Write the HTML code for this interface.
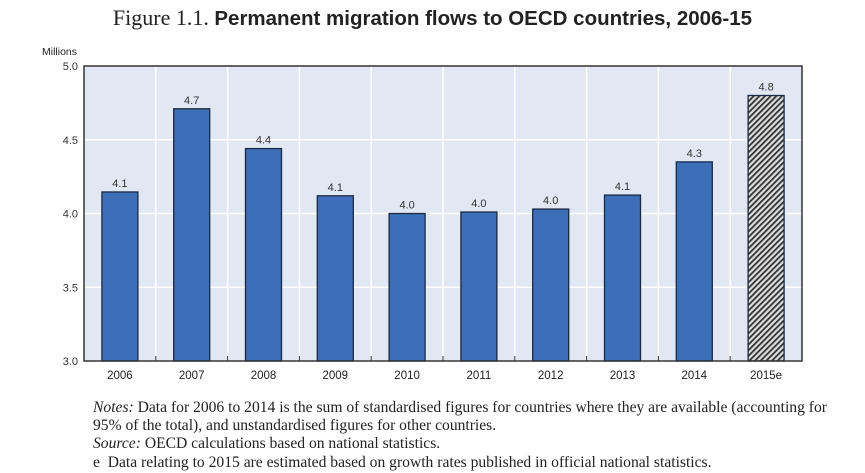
<!DOCTYPE html>
<html><head><meta charset="utf-8"><style>
body{margin:0;background:#fff;width:865px;height:473px;overflow:hidden;position:relative;font-family:"Liberation Sans",sans-serif}
.t{position:absolute;left:0;width:865px;top:5px;text-align:center;font-family:"Liberation Serif",serif;font-size:22px;color:#222;white-space:nowrap}
.n{position:absolute;left:93px;font-family:"Liberation Serif",serif;font-size:15.6px;color:#222;line-height:17.5px;white-space:nowrap}
</style></head><body>
<div class="t">Figure 1.1. <b style="font-family:'Liberation Sans',sans-serif;font-size:20.5px">Permanent migration flows to OECD countries, 2006-15</b></div>
<svg id="c" width="865" height="400" style="position:absolute;left:0;top:0">
<defs><pattern id="h" width="4" height="4" patternUnits="userSpaceOnUse" patternTransform="rotate(45)"><rect width="4" height="4" fill="#ddd"/><rect width="1.8" height="4" fill="#333"/></pattern></defs>
</svg>
<div class="n" style="top:399px"><i>Notes:</i> Data for 2006 to 2014 is the sum of standardised figures for countries where they are available (accounting for<br>95% of the total), and unstandardised figures for other countries.</div>
<div class="n" style="top:435px"><i>Source:</i> OECD calculations based on national statistics.</div>
<div class="n" style="top:454px">e&nbsp; Data relating to 2015 are estimated based on growth rates published in official national statistics.</div>
<script>
const categories=["2006","2007","2008","2009","2010","2011","2012","2013","2014","2015e"];
const values=[4.146,4.71,4.44,4.12,4.0,4.01,4.03,4.125,4.35,4.80];
const labels=["4.1","4.7","4.4","4.1","4.0","4.0","4.0","4.1","4.3","4.8"];
const ticks=[3.0,3.5,4.0,4.5,5.0];
const L=84,R=802,T=66,B=361,ymin=3,ymax=5;
const svg=document.getElementById('c'),NS='http://www.w3.org/2000/svg';
const y=v=>B-(v-ymin)/(ymax-ymin)*(B-T);
const cw=(R-L)/categories.length,x=i=>L+cw*(i+0.5);
function mk(t,a,p){const e=document.createElementNS(NS,t);for(const k in a)e.setAttribute(k,a[k]);(p||svg).appendChild(e);return e;}
const bg=mk('rect',{x:L,y:T,width:R-L,height:B-T,fill:'#e1e7f3'});


ticks.forEach(v=>{
 const g=mk('line',{x1:L,x2:R,y1:y(v),y2:y(v),stroke:'#fff','stroke-width':1.5});
 
 
 const t=mk('text',{x:L-6,y:y(v)+4,'text-anchor':'end','font-size':11,fill:'#333'});t.textContent=v.toFixed(1);
 
 
});
for(let i=1;i<categories.length;i++){
 const g=mk('line',{x1:L+cw*i,x2:L+cw*i,y1:T,y2:B,stroke:'#fff','stroke-width':1.5});
 
 
 const tk=mk('line',{x1:L+cw*i,x2:L+cw*i,y1:B-5,y2:B,stroke:'#333'});
 
 
}
const bw=36;
categories.forEach((c,i)=>{
 const last=i===categories.length-1;
 const r=mk('rect',{x:x(i)-bw/2,y:y(values[i]),width:bw,height:B-y(values[i]),fill:last?'url(#h)':'#3d6eb8',stroke:'#1a2a44','stroke-width':1.3});
 
 
 const lt=mk('text',{x:x(i),y:y(values[i])-5,'text-anchor':'middle','font-size':11,fill:'#333'});lt.textContent=labels[i];
 
 
 const xt=mk('text',{x:x(i),y:B+18,'text-anchor':'middle','font-size':11.5,fill:'#222'});xt.textContent=c;
 
 
});
const fr=mk('rect',{x:L,y:T,width:R-L,height:B-T,fill:'none',stroke:'#333','stroke-width':1.5});


const u=mk('text',{x:42,y:55,'font-size':10.5,fill:'#222'});u.textContent='Millions';


</script>
</body></html>
